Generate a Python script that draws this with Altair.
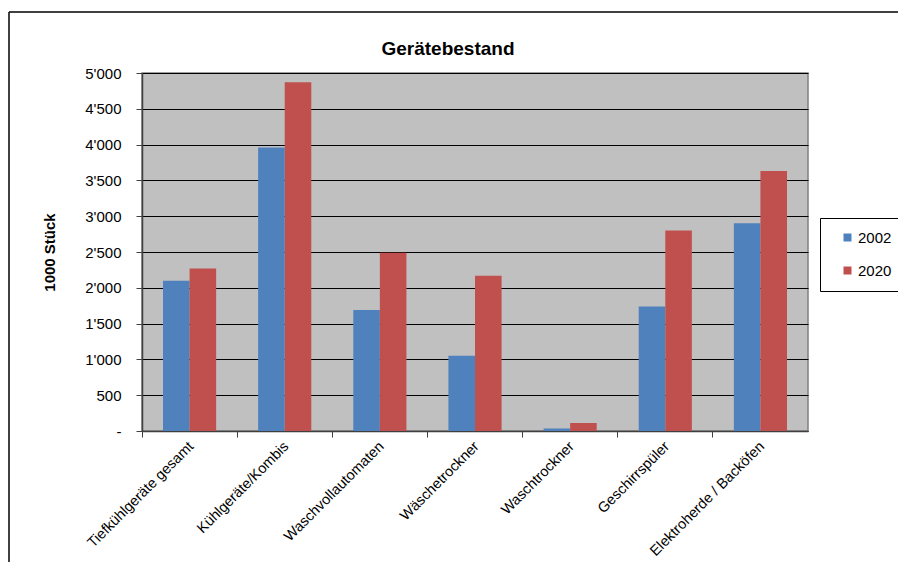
import altair as alt
import pandas as pd

title_text = "Gerätebestand"
categories = ["Tiefkühlgeräte gesamt", "Kühlgeräte/Kombis", "Waschvollautomaten",
              "Wäschetrockner", "Waschtrockner", "Geschirrspüler", "Elektroherde / Backöfen"]
series = ["2002", "2020"]
values_2002 = [2100, 3960, 1690, 1050, 35, 1740, 2900]
values_2020 = [2270, 4870, 2490, 2170, 110, 2800, 3630]
y_ticks = [0, 500, 1000, 1500, 2000, 2500, 3000, 3500, 4000, 4500, 5000]

rows = []
for c, a, b in zip(categories, values_2002, values_2020):
    rows.append({"Kategorie": c, "Jahr": "2002", "Wert": a})
    rows.append({"Kategorie": c, "Jahr": "2020", "Wert": b})
df = pd.DataFrame(rows)

FONT = "Liberation Sans"

bars = alt.Chart(df).mark_bar().encode(
    x=alt.X("Kategorie:N", sort=categories,
            scale=alt.Scale(paddingInner=0, paddingOuter=0),
            axis=alt.Axis(title=None, bandPosition=0, labelAngle=-45, labelOffset=-3,
                          labelFont=FONT, labelFontSize=14.5, labelColor="black",
                          domainColor="#404040", domainWidth=1.5, tickColor="#404040",
                          tickSize=6, labelPadding=2, grid=False)),
    xOffset=alt.XOffset("Jahr:N", sort=series,
                        scale=alt.Scale(paddingOuter=0.79, paddingInner=0)),
    y=alt.Y("Wert:Q", scale=alt.Scale(domain=[0, 5000], nice=False),
            axis=alt.Axis(title="1000 Stück", values=y_ticks,
                          labelExpr="datum.value == 0 ? '-' : replace(format(datum.value, ','), ',', \"'\")",
                          labelFont=FONT, labelFontSize=15, labelColor="black",
                          titleFont=FONT, titleFontSize=15, titleFontWeight="bold", titleColor="black",
                          titleX=-85, titleY=179,
                          domainColor="#404040", domainWidth=1.5, tickColor="#404040",
                          tickSize=6, labelPadding=15,
                          grid=True, gridColor="black", gridWidth=1)),
    color=alt.Color("Jahr:N", sort=series,
                    scale=alt.Scale(domain=series, range=["#4F81BD", "#C0504D"]),
                    legend=alt.Legend(title=None, orient="none", legendX=678, legendY=145,
                                      symbolType="square", symbolSize=64, symbolOffset=8,
                                      labelFont=FONT, labelFontSize=15, labelColor="black",
                                      labelOffset=3,
                                      padding=12, rowPadding=17, strokeColor="black",
                                      fillColor="white")),
)

title_mark = alt.Chart(pd.DataFrame({"t": [title_text]})).mark_text(
    font=FONT, fontSize=19, fontWeight="bold", color="black",
    align="center", baseline="alphabetic").encode(
    text="t:N", x=alt.value(306), y=alt.value(-18))

frame_top = alt.Chart(pd.DataFrame({"k": [0]})).mark_rule(color="black", strokeWidth=1.5).encode(
    x=alt.value(-133), x2=alt.value(770), y=alt.value(-61))
frame_left = alt.Chart(pd.DataFrame({"k": [0]})).mark_rule(color="black", strokeWidth=1.5).encode(
    x=alt.value(-133), y=alt.value(-61), y2=alt.value(500))

chart = alt.layer(bars, title_mark, frame_top, frame_left).properties(
    width=666, height=358,
    autosize=alt.AutoSizeParams(type="none"),
    padding={"left": 134, "top": 65, "right": 90, "bottom": 131},
    background="white",
).configure_view(fill="#C0C0C0", stroke="#808080", strokeWidth=1.5)

chart.save("out.html", embed_options={"renderer": "svg", "actions": False})
